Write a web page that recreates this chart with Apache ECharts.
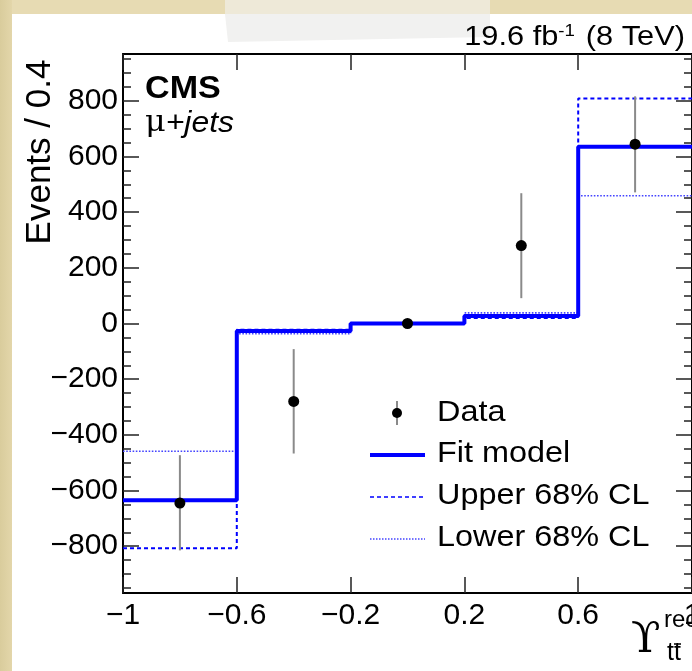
<!DOCTYPE html>
<html>
<head>
<meta charset="utf-8">
<script src="https://cdn.jsdelivr.net/npm/echarts@6/dist/echarts.min.js"></script>
<style>
html,body{margin:0;padding:0;background:#e7dbb3;}
#chart{width:692px;height:671px;}
</style>
</head>
<body>
<div id="chart"></div>
<script>
// ---- data ----
const binEdges = [-1, -0.6, -0.2, 0.2, 0.6, 1];
const fitModel = [-635, -27, 0, 27, 635];
const upperCL = [-807, -22, 0, 20, 808];
const lowerCL = [-459, -37, 0, 38, 459];
const dataX = [-0.8, -0.4, 0, 0.4, 0.8];
const dataY = [-645, -280, 0, 280, 644];
const dataErrLo = [170, 187, 0, 189, 173];
const dataErrHi = [172, 188, 0, 188, 172];
const xTickValues = [-1, -0.6, -0.2, 0.2, 0.6, 1];
const yTickValues = [-800, -600, -400, -200, 0, 200, 400, 600, 800];
const yMinorTickValues = [-950,-900,-850,-750,-700,-650,-550,-500,-450,-350,-300,-250,-150,-100,-50,50,100,150,250,300,350,450,500,550,650,700,750,850,900,950];
const yMin = -968, yMax = 968;

function stepData(vals) {
  const out = vals.map((v, i) => [binEdges[i], v]);
  out.push([binEdges[binEdges.length - 1], vals[vals.length - 1]]);
  return out;
}
const minus = v => String(v).replace('-', '\u2212');
const FONT = '"Liberation Sans", Arial, Helvetica, sans-serif';
const SERIF = '"DejaVu Serif", "Liberation Serif", serif';
const BLUE = '#0000ff';

const chart = echarts.init(document.getElementById('chart'), null, {renderer: 'canvas'});

const tickStyle = {color: '#222', width: 1.5};
const axisLineStyle = {color: '#000', width: 2};

function legendText(txt, y) {
  return {type: 'text', z: 10, x: 437, y: y, scaleX: 1.08, silent: true,
    style: {text: txt, fontSize: 30, fontFamily: FONT, fill: '#000', verticalAlign: 'middle'}};
}

const option = {
  animation: false,
  backgroundColor: 'transparent',
  grid: {left: 123, top: 54, right: 0, bottom: 78, containLabel: false, outerBoundsMode: 'none'},
  xAxis: [
    {type: 'value', position: 'bottom', min: -1, max: 1,
     axisLine: {show: true, onZero: false, lineStyle: axisLineStyle},
     axisTick: {show: true, inside: true, length: 16, customValues: xTickValues, lineStyle: tickStyle},
     axisLabel: {show: true, customValues: xTickValues, formatter: minus, fontSize: 30, color: '#000', fontFamily: FONT, margin: 8},
     splitLine: {show: false}},
    {type: 'value', position: 'top', min: -1, max: 1,
     axisLine: {show: true, onZero: false, lineStyle: axisLineStyle},
     axisTick: {show: true, inside: true, length: 16, customValues: xTickValues, lineStyle: tickStyle},
     axisLabel: {show: false}, splitLine: {show: false}}
  ],
  yAxis: [
    {type: 'value', position: 'left', min: yMin, max: yMax,
     axisLine: {show: true, onZero: false, lineStyle: axisLineStyle},
     axisTick: {show: true, inside: true, length: 16, customValues: yTickValues, lineStyle: tickStyle},
     axisLabel: {show: true, customValues: yTickValues, formatter: minus, fontSize: 30, color: '#000', fontFamily: FONT, margin: 5},
     splitLine: {show: false}},
    {type: 'value', position: 'left', min: yMin, max: yMax,
     axisLine: {show: false, onZero: false},
     axisTick: {show: true, inside: true, length: 8, customValues: yMinorTickValues, lineStyle: tickStyle},
     axisLabel: {show: false}, splitLine: {show: false}},
    {type: 'value', position: 'right', min: yMin, max: yMax,
     axisLine: {show: true, onZero: false, lineStyle: axisLineStyle},
     axisTick: {show: true, inside: true, length: 16, customValues: yTickValues, lineStyle: tickStyle},
     axisLabel: {show: false}, splitLine: {show: false}},
    {type: 'value', position: 'right', min: yMin, max: yMax,
     axisLine: {show: false, onZero: false},
     axisTick: {show: true, inside: true, length: 8, customValues: yMinorTickValues, lineStyle: tickStyle},
     axisLabel: {show: false}, splitLine: {show: false}}
  ],
  series: [
    {name: 'Upper 68% CL', type: 'line', step: 'end', data: stepData(upperCL), showSymbol: false,
     lineStyle: {color: BLUE, width: 2, type: [4, 3]}, z: 3},
    {name: 'Lower 68% CL', type: 'line', step: 'end', data: stepData(lowerCL), showSymbol: false,
     lineStyle: {color: '#4444ff', width: 1.6, type: [1.6, 1.6]}, z: 3},
    {name: 'Fit model', type: 'line', step: 'end', data: stepData(fitModel), showSymbol: false,
     lineStyle: {color: BLUE, width: 4}, z: 4},
    {name: 'DataErr', type: 'custom', z: 5,
     data: dataX.map((x, i) => [x, dataY[i] - dataErrLo[i], dataY[i] + dataErrHi[i]]),
     renderItem: function (params, api) {
       const p1 = api.coord([api.value(0), api.value(1)]);
       const p2 = api.coord([api.value(0), api.value(2)]);
       return {type: 'line', shape: {x1: p1[0], y1: p1[1], x2: p2[0], y2: p2[1]},
               style: {stroke: '#8a8a8a', lineWidth: 2}};
     }},
    {name: 'Data', type: 'scatter', z: 6, symbol: 'circle', symbolSize: 11,
     itemStyle: {color: '#000', opacity: 1},
     data: dataX.map((x, i) => [x, dataY[i]])}
  ],
  graphic: [
    // photo background: paper and tape
    {type: 'rect', z: -10, silent: true, shape: {x: 12, y: 14, width: 700, height: 700}, style: {fill: '#ffffff'}},
    {type: 'rect', z: -11, silent: true, shape: {x: 0, y: 0, width: 12, height: 671},
     style: {fill: new echarts.graphic.LinearGradient(0, 0, 1, 0, [{offset: 0, color: '#d9cc9c'}, {offset: 1, color: '#e3d6aa'}])}},
    {type: 'polygon', z: -9, silent: true, shape: {points: [[225, 0], [490, 0], [490, 14], [225, 14]]}, style: {fill: '#eee9d8'}},
    {type: 'polygon', z: -9, silent: true, shape: {points: [[225, 14], [490, 14], [490, 37], [228, 42]]}, style: {fill: '#f1f1f0'}},
    // title
    {type: 'text', z: 10, x: 685, y: 51, scaleX: 1.1, silent: true,
     style: {text: '{a|19.6 fb}{s|-1}{a| (8 TeV)}', align: 'right', verticalAlign: 'bottom',
       rich: {a: {fontSize: 28, fontFamily: FONT, fill: '#000', verticalAlign: 'bottom'},
              s: {fontSize: 17, fontFamily: FONT, fill: '#000', verticalAlign: 'top', padding: [0, 2, 11, 0]}}}},
    // CMS label
    {type: 'text', z: 10, x: 145, y: 74, scaleX: 1.1, silent: true,
     style: {text: 'CMS', fontSize: 31, fontWeight: 'bold', fontFamily: FONT, fill: '#000'}},
    {type: 'text', z: 10, x: 145, y: 109, scaleX: 1.1, silent: true,
     style: {text: '{m|\u03bc}{j|+jets}', rich: {
       m: {fontSize: 29, fontFamily: SERIF, fill: '#000'},
       j: {fontSize: 29, fontStyle: 'italic', fontFamily: FONT, fill: '#000'}}}},
    // y axis title
    {type: 'text', z: 10, x: 40, y: 152, rotation: Math.PI / 2, silent: true,
     style: {text: 'Events / 0.4', fontSize: 35, fontFamily: FONT, fill: '#000', align: 'center', verticalAlign: 'middle'}},
    // x axis title
    {type: 'text', z: 10, x: 631, y: 619, silent: true,
     style: {text: '\u03d2', fontSize: 43, fontFamily: SERIF, fill: '#000'}},
    {type: 'text', z: 10, x: 664, y: 608, silent: true,
     style: {text: 'rec', fontSize: 24, fontFamily: FONT, fill: '#000'}},
    {type: 'text', z: 10, x: 667, y: 641, silent: true,
     style: {text: 'tt', fontSize: 25, fontFamily: FONT, fill: '#000'}},
    {type: 'line', z: 10, silent: true, shape: {x1: 674, y1: 644, x2: 681, y2: 644}, style: {stroke: '#000', lineWidth: 1.5}},
    // legend
    {type: 'line', z: 10, silent: true, shape: {x1: 397, y1: 401, x2: 397, y2: 425}, style: {stroke: '#8a8a8a', lineWidth: 2}},
    {type: 'circle', z: 11, silent: true, shape: {cx: 397, cy: 413, r: 5}, style: {fill: '#000'}},
    legendText('Data', 413),
    {type: 'line', z: 10, silent: true, shape: {x1: 370, y1: 455, x2: 425, y2: 455}, style: {stroke: BLUE, lineWidth: 4}},
    legendText('Fit model', 454),
    {type: 'line', z: 10, silent: true, shape: {x1: 370, y1: 497, x2: 425, y2: 497}, style: {stroke: BLUE, lineWidth: 1.6, lineDash: [4, 3]}},
    legendText('Upper 68% CL', 496),
    {type: 'line', z: 10, silent: true, shape: {x1: 370, y1: 539, x2: 425, y2: 539}, style: {stroke: '#4444ff', lineWidth: 1.4, lineDash: [1.5, 1.5]}},
    legendText('Lower 68% CL', 538)
  ]
};
chart.setOption(option);
</script>
</body>
</html>
